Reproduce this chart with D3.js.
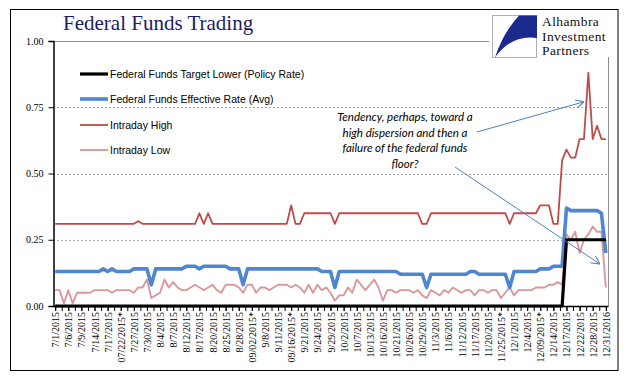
<!DOCTYPE html>
<html>
<head>
<meta charset="utf-8">
<script src="https://cdn.jsdelivr.net/npm/d3@7"></script>
<style>
  body { margin: 0; background: #fff; }
  svg { display: block; }
</style>
</head>
<body>
<div id="chart"></div>
<script>
// tick labels, one every third trading day (as printed on the original)
var tickLabels = ["7/1/2015","7/6/2015","7/9/2015","7/14/2015","7/17/2015","07/22/2015*","7/27/2015",
  "7/30/2015","8/4/2015","8/7/2015","8/12/2015","8/17/2015","8/20/2015","8/25/2015","8/28/2015",
  "09/02/2015*","9/8/2015","9/11/2015","09/16/2015*","9/21/2015","9/24/2015","9/29/2015","10/2/2015",
  "10/7/2015","10/13/2015","10/16/2015","10/21/2015","10/26/2015","10/29/2015","11/3/2015","11/6/2015",
  "11/12/2015","11/17/2015","11/20/2015","11/25/2015*","12/1/2015","12/4/2015","12/09/2015*",
  "12/14/2015","12/17/2015","12/22/2015","12/28/2015","12/31/2016"];

var targetLower = [
  0,0,0,0,0,0,0,0,0,0, 0,0,0,0,0,0,0,0,0,0, 0,0,0,0,0,0,0,0,0,0, 0,0,0,0,0,0,0,0,0,0,
  0,0,0,0,0,0,0,0,0,0, 0,0,0,0,0,0,0,0,0,0, 0,0,0,0,0,0,0,0,0,0, 0,0,0,0,0,0,0,0,0,0,
  0,0,0,0,0,0,0,0,0,0, 0,0,0,0,0,0,0,0,0,0, 0,0,0,0,0,0,0,0,0,0, 0,0,0,0,0,0,0,.25,.25,.25,
  .25,.25,.25,.25,.25,.25,.25];

var effective = [
  .13,.13,.13,.13,.13,.13,.13,.13,.13,.13, .13,.14,.13,.14,.13,.13,.13,.13,.14,.14,
  .14,.14,.08,.14,.14,.14,.14,.14,.14,.14, .15,.15,.15,.14,.15,.15,.15,.15,.15,.15,
  .14,.14,.14,.08,.14,.14,.14,.14,.14,.14, .14,.14,.14,.14,.14,.14,.14,.14,.14,.14,
  .14,.13,.13,.13,.07,.13,.13,.13,.13,.13, .13,.13,.13,.13,.13,.13,.13,.13,.13,.12,
  .12,.12,.12,.12,.12,.07,.12,.12,.12,.12, .12,.12,.12,.12,.12,.13,.13,.12,.12,.12,
  .12,.12,.12,.12,.07,.13,.13,.13,.13,.13, .13,.14,.14,.14,.15,.15,.15,.37,.36,.36,
  .36,.36,.36,.36,.36,.35,.20];

var intradayHigh = [
  .31,.31,.31,.31,.31,.31,.31,.31,.31,.31, .31,.31,.31,.31,.31,.31,.31,.31,.31,.32,
  .31,.31,.31,.31,.31,.31,.31,.31,.31,.31, .31,.31,.31,.35,.31,.35,.31,.31,.31,.31,
  .31,.31,.31,.31,.31,.31,.31,.31,.31,.31, .31,.31,.31,.31,.38,.31,.31,.35,.35,.35,
  .35,.35,.35,.35,.31,.35,.35,.35,.35,.35, .35,.35,.35,.35,.35,.35,.35,.35,.35,.35,
  .35,.35,.35,.35,.31,.31,.35,.35,.35,.35, .35,.35,.35,.35,.35,.35,.35,.35,.35,.35,
  .35,.35,.35,.35,.31,.35,.35,.35,.35,.35, .35,.38,.38,.38,.31,.31,.55,.59,.56,.56,
  .63,.63,.88,.63,.68,.63,.63];

var intradayLow = [
  .06,.06,.01,.06,.01,.05,.05,.05,.05,.06, .06,.06,.06,.05,.06,.06,.06,.06,.05,.07,
  .07,.10,.03,.04,.05,.10,.07,.09,.07,.06, .06,.07,.08,.07,.06,.07,.08,.06,.05,.08,
  .08,.08,.07,.05,.08,.08,.05,.07,.07,.06, .07,.08,.08,.08,.07,.08,.07,.05,.08,.05,
  .08,.06,.07,.05,.02,.04,.04,.07,.05,.10, .08,.06,.08,.10,.07,.02,.06,.06,.05,.06,
  .06,.06,.05,.06,.04,.03,.06,.05,.04,.06, .05,.07,.06,.05,.06,.06,.04,.06,.06,.05,
  .06,.06,.03,.05,.07,.04,.06,.06,.06,.06, .07,.07,.07,.08,.08,.09,.08,.27,.25,.28,
  .20,.25,.27,.30,.28,.28,.07];

var yTicks = [0, 0.25, 0.5, 0.75, 1];

var series = [
  {name: "Federal Funds Target Lower (Policy Rate)", values: targetLower, color: "#000000", width: 3.2},
  {name: "Federal Funds Effective Rate (Avg)", values: effective, color: "#4f86d0", width: 3.6},
  {name: "Intraday High", values: intradayHigh, color: "#be4b48", width: 1.8},
  {name: "Intraday Low", values: intradayLow, color: "#d9999a", width: 1.9}
];

var W = 641, H = 381;
var plot = {left: 53, right: 608, top: 41, bottom: 306};

var svg = d3.select("#chart").append("svg")
  .attr("width", W)
  .attr("height", H);

// outer frame
svg.append("rect")
  .attr("x", 10.5).attr("y", 9.5)
  .attr("width", 607.5).attr("height", 361)
  .attr("fill", "#fff")
  .attr("stroke", "#000")
  .attr("stroke-width", 1);

var n = intradayHigh.length;
var x = d3.scaleLinear().domain([-0.5, n - 0.5]).range([plot.left, plot.right]);
var y = d3.scaleLinear().domain([0, 1]).range([plot.bottom, plot.top]);

// plot border (top and right, grey)
svg.append("path")
  .attr("d", "M" + plot.left + "," + (plot.top + 0.5) + "H" + (plot.right + 0.5) + "V" + plot.bottom)
  .attr("fill", "none")
  .attr("stroke", "#8c8c8c")
  .attr("stroke-width", 1);

// dashed gridlines
svg.append("g")
  .selectAll("line")
  .data([0.25, 0.5, 0.75])
  .join("line")
  .attr("x1", plot.left).attr("x2", plot.right)
  .attr("y1", function(d) { return Math.round(y(d)) + 0.5; })
  .attr("y2", function(d) { return Math.round(y(d)) + 0.5; })
  .attr("stroke", "#a6a6a6")
  .attr("stroke-dasharray", "2,2")
  .attr("stroke-width", 1);

// y axis
var yAxis = svg.append("g")
  .attr("transform", "translate(" + (plot.left + 0.5) + ",0)")
  .call(d3.axisLeft(y).tickValues(yTicks).tickFormat(d3.format(".2f")).tickSize(5).tickPadding(5));
yAxis.select(".domain").attr("stroke", "#000").attr("stroke-width", 1.5);
yAxis.selectAll("text")
  .attr("font-family", "Liberation Serif, Times New Roman, serif")
  .attr("font-size", 10)
  .attr("fill", "#000");

// x axis: minor ticks every 1.5 days, labels every 3
var labelIdx = tickLabels.map(function(d, i) { return i * 3; });
var minorTicks = d3.range(0, n, 1.5);
var xMinor = svg.append("g")
  .attr("transform", "translate(0," + plot.bottom + ")")
  .call(d3.axisBottom(x).tickValues(minorTicks).tickFormat("").tickSize(5).tickSizeOuter(0));
xMinor.select(".domain").remove();
xMinor.selectAll("line").attr("stroke", "#000");

var xAxis = svg.append("g")
  .attr("transform", "translate(0," + plot.bottom + ")")
  .call(d3.axisBottom(x).tickValues(labelIdx)
    .tickFormat(function(d) { return tickLabels[d / 3]; })
    .tickSize(5).tickSizeOuter(0));
xAxis.select(".domain").attr("stroke", "#000").attr("stroke-width", 1.5);
xAxis.selectAll("line").attr("stroke", "#000");
xAxis.selectAll("text")
  .attr("font-family", "Liberation Serif, Times New Roman, serif")
  .attr("font-size", 10)
  .attr("fill", "#000")
  .attr("text-anchor", "end")
  .attr("transform", "rotate(-90)")
  .attr("x", -6)
  .attr("y", 0)
  .attr("dy", "0.35em");

// series lines (pink and red first, blue, then black on top)
var line = d3.line()
  .x(function(d, i) { return x(i); })
  .y(function(d) { return y(d); });

var drawOrder = [3, 2, 1, 0];
svg.append("g")
  .selectAll("path")
  .data(drawOrder.map(function(k) { return series[k]; }))
  .join("path")
  .attr("d", function(s) { return line(s.values); })
  .attr("fill", "none")
  .attr("stroke", function(s) { return s.color; })
  .attr("stroke-width", function(s) { return s.width; })
  .attr("stroke-linejoin", "round");

// legend
var legend = svg.append("g");
var legendRows = [74, 99, 125, 150];
series.forEach(function(s, i) {
  legend.append("line")
    .attr("x1", 80).attr("x2", 108)
    .attr("y1", legendRows[i]).attr("y2", legendRows[i])
    .attr("stroke", s.color)
    .attr("stroke-width", s.width);
  legend.append("text")
    .attr("x", 110)
    .attr("y", legendRows[i])
    .attr("dy", "0.35em")
    .attr("font-family", "Liberation Sans, Arial, sans-serif")
    .attr("font-size", 10.5)
    .attr("fill", "#000")
    .text(s.name);
});

// annotation
var noteLines = ["Tendency, perhaps, toward a", "high dispersion and then a",
  "failure of the federal funds", "floor?"];
svg.append("g")
  .selectAll("text")
  .data(noteLines)
  .join("text")
  .attr("x", 405)
  .attr("y", function(d, i) { return 117 + i * 15.5; })
  .attr("dy", "0.35em")
  .attr("text-anchor", "middle")
  .attr("font-family", "Lato, Open Sans, sans-serif")
  .attr("font-style", "italic")
  .attr("font-size", 11.5)
  .attr("fill", "#000")
  .text(function(d) { return d; });

svg.append("defs").append("marker")
  .attr("id", "arrow")
  .attr("viewBox", "0 0 10 10")
  .attr("refX", 9).attr("refY", 5)
  .attr("markerWidth", 9).attr("markerHeight", 9)
  .attr("markerUnits", "userSpaceOnUse")
  .attr("orient", "auto")
  .append("path")
  .attr("d", "M0,0L10,5L0,10")
  .attr("fill", "none")
  .attr("stroke", "#4f81bd")
  .attr("stroke-width", 1.2);

// arrow to the intraday high spike
svg.append("line")
  .attr("x1", 477).attr("y1", 132)
  .attr("x2", x(122) - 5).attr("y2", y(0.77))
  .attr("stroke", "#4f81bd").attr("stroke-width", 1)
  .attr("marker-end", "url(#arrow)");
// arrow to the intraday low drop
svg.append("line")
  .attr("x1", 455).attr("y1", 167)
  .attr("x2", x(124.5)).attr("y2", y(0.16))
  .attr("stroke", "#4f81bd").attr("stroke-width", 1)
  .attr("marker-end", "url(#arrow)");

// title
svg.append("text")
  .attr("x", 63).attr("y", 30)
  .attr("font-family", "Liberation Serif, Times New Roman, serif")
  .attr("font-size", 21)
  .attr("fill", "#1c1c6b")
  .text("Federal Funds Trading");

// logo block
var logo = svg.append("g");
logo.append("rect")
  .attr("x", 489).attr("y", 11)
  .attr("width", 124).attr("height", 46)
  .attr("fill", "#fff");
logo.append("rect")
  .attr("x", 492.5).attr("y", 15.5)
  .attr("width", 44).attr("height", 42)
  .attr("fill", "#fff")
  .attr("stroke", "#b0b0b0");
logo.append("path")
  .attr("d", "M537,15.5 L519,15.5 Q503,33 495,57.5 Q512,34 537,38 Z")
  .attr("fill", "#1b2a8c");
logo.selectAll("text.brand")
  .data(["Alhambra", "Investment", "Partners"])
  .join("text")
  .attr("class", "brand")
  .attr("x", 542)
  .attr("y", function(d, i) { return 26 + i * 14.5; })
  .attr("font-family", "Liberation Serif, Times New Roman, serif")
  .attr("font-size", 13.5)
  .attr("letter-spacing", 0.4)
  .attr("fill", "#111")
  .text(function(d) { return d; });
</script>
</body>
</html>
